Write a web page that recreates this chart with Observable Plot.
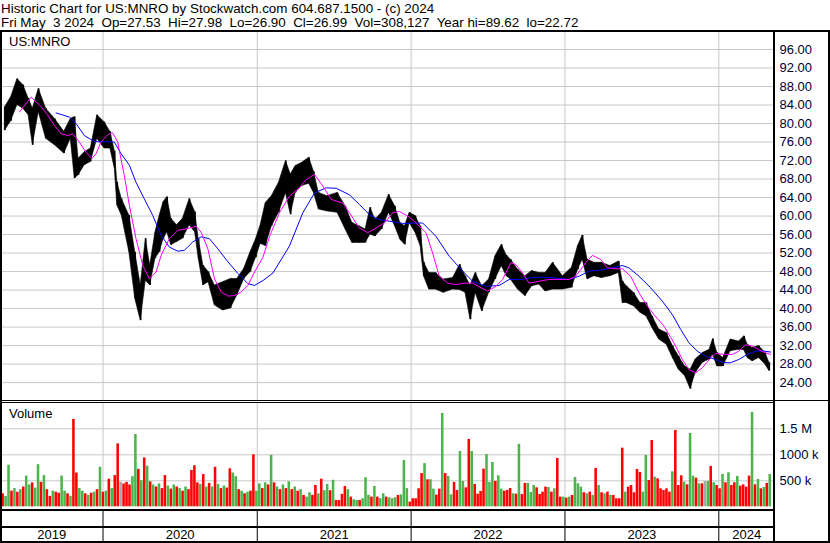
<!DOCTYPE html>
<html><head><meta charset="utf-8">
<script src="https://cdn.jsdelivr.net/npm/d3@7"></script>
<script src="https://cdn.jsdelivr.net/npm/@observablehq/plot@0.6"></script>
<style>
body{margin:0;background:#fff;}
#chart{position:relative;width:830px;height:543px;overflow:hidden;background:#fff;font-family:Arial,"Liberation Sans",Helvetica,sans-serif;font-size:13px;color:#000;}
.t{position:absolute;white-space:pre;line-height:15px;font-size:13px;}
.hd{font-size:13.4px;line-height:13px;}
.hl{position:absolute;background:#000;}
.layer{position:absolute;left:0;}
</style></head><body><div id="chart"></div><script>
// ---------- header texts ----------
const titleLine = "Historic Chart for US:MNRO by Stockwatch.com 604.687.1500 - (c) 2024";
const infoLine = "Fri May  3 2024  Op=27.53  Hi=27.98  Lo=26.90  Cl=26.99  Vol=308,127  Year hi=89.62  lo=22.72";
const symbolLabel = "US:MNRO";
const volumeLabel = "Volume";

// ---------- axis ticks ----------
const priceTicks = [24,28,32,36,40,44,48,52,56,60,64,68,72,76,80,84,88,92,96];
const volTicks = [500000, 1000000, 1500000];
const volTickLabels = ["500 k", "1000 k", "1.5 M"];
const years = [2019, 2020, 2021, 2022, 2023, 2024];

// ---------- price ranges (period start, low, high) ----------
const barDates = ["2019-05-06","2019-05-21","2019-06-04","2019-06-20","2019-07-02","2019-07-15","2019-07-22","2019-08-12","2019-08-26","2019-09-23",
"2019-10-09","2019-10-24","2019-10-28","2019-11-11","2019-11-26","2019-12-10","2019-12-27","2020-01-13","2020-01-24","2020-02-03",
"2020-02-05","2020-02-24","2020-03-12","2020-03-23","2020-04-07","2020-04-16","2020-04-28","2020-05-11","2020-05-18","2020-05-29",
"2020-06-05","2020-06-17","2020-07-02","2020-07-15","2020-08-03","2020-08-10","2020-08-20","2020-09-01","2020-09-14","2020-09-30",
"2020-10-23","2020-11-06","2020-11-23","2020-12-09","2020-12-23","2021-01-04","2021-01-14","2021-01-28","2021-02-12","2021-03-03",
"2021-03-17","2021-03-26","2021-04-09","2021-04-26","2021-05-12","2021-05-19","2021-06-04","2021-06-29","2021-07-22","2021-08-06",
"2021-08-23","2021-09-08","2021-09-22","2021-10-01","2021-10-15","2021-11-01","2021-11-18","2021-11-30","2021-12-13","2021-12-22",
"2022-01-04","2022-01-19","2022-01-28","2022-02-04","2022-02-22","2022-03-07","2022-03-31","2022-04-21","2022-05-03","2022-05-17",
"2022-05-27","2022-06-10","2022-06-27","2022-07-13","2022-07-27","2022-08-12","2022-08-19","2022-09-01","2022-09-22","2022-10-06",
"2022-10-24","2022-11-09","2022-11-23","2022-12-14","2023-01-09","2023-01-26","2023-02-07","2023-02-17","2023-03-02","2023-03-21",
"2023-04-06","2023-05-01","2023-05-17","2023-05-19","2023-06-05","2023-06-22","2023-07-06","2023-07-21","2023-08-03","2023-08-22",
"2023-09-08","2023-09-20","2023-10-06","2023-10-20","2023-11-01","2023-11-13","2023-12-05","2023-12-15","2023-12-22","2024-01-04",
"2024-01-19","2024-02-08","2024-02-28","2024-03-04","2024-03-15","2024-03-27","2024-04-15","2024-04-26"];
const lastBarEnd = "2024-05-04";
const barLow = [78.5,80.5,84.0,83.2,81.8,75.3,82.5,76.7,75.3,73.5,
76.7,68.1,68.8,71.0,71.7,76.7,74.6,74.6,70.2,62.3,
60.1,52.2,42.1,37.4,46.0,45.0,50.8,52.2,55.0,56.5,
53.7,54.4,55.1,58.0,56.5,50.8,45.0,45.7,40.7,39.6,
40.0,42.8,46.4,47.9,51.0,54.0,53.5,57.8,60.7,65.0,
60.3,65.0,66.5,67.0,65.0,61.4,61.0,60.7,57.1,54.2,
54.2,54.2,56.0,55.6,57.1,60.7,57.8,54.9,53.8,58.5,
56.4,53.5,47.0,44.1,44.1,43.4,44.1,44.0,43.4,37.6,
43.4,39.4,43.4,46.3,49.2,47.0,46.3,44.1,42.7,44.8,
45.2,43.7,44.1,44.1,44.5,48.4,50.6,46.3,47.0,46.6,
47.0,47.7,41.2,41.2,40.5,39.1,38.3,35.8,33.3,32.2,
29.3,26.8,25.4,22.6,26.1,28.3,29.0,30.0,27.5,27.5,
30.8,31.1,31.0,29.3,28.6,29.3,27.9,26.5];
const barHigh = [83.5,85.7,89.6,88.3,85.4,83.2,87.5,83.2,81.0,78.2,
81.0,81.4,72.4,73.8,74.6,81.8,80.3,78.2,74.0,67.3,
63.7,60.1,52.2,45.0,55.1,49.3,56.5,60.1,63.0,64.1,
59.4,58.0,59.4,63.7,60.9,55.1,49.3,47.9,45.0,45.7,
46.4,46.4,48.6,52.2,55.0,58.0,62.8,64.3,67.2,71.9,
69.0,70.8,71.5,72.6,69.6,65.0,64.3,65.0,62.1,58.5,
57.8,57.1,61.8,59.2,60.7,64.6,62.1,58.5,57.8,60.7,
60.0,57.8,50.0,47.7,47.7,46.3,46.6,49.5,47.0,45.0,
47.7,44.8,46.3,51.3,53.8,51.5,50.6,48.4,47.0,48.1,
47.7,47.7,49.9,47.0,48.8,53.5,55.8,50.6,49.9,49.9,
49.2,50.2,45.9,44.8,43.4,41.2,41.2,38.3,35.5,34.7,
31.9,29.7,27.5,26.8,29.0,30.4,31.1,33.4,30.4,29.3,
33.3,32.9,34.0,32.2,31.5,31.9,30.4,28.3];

// ---------- moving averages (decimal year, value) ----------
const maFastYears = [2019.457,2019.533,2019.598,2019.641,2019.684,2019.727,2019.771,2019.803,2019.846,2019.890,
2019.927,2019.955,2019.987,2020.031,2020.063,2020.095,2020.138,2020.171,2020.214,2020.258,
2020.301,2020.344,2020.377,2020.430,2020.485,2020.550,2020.604,2020.636,2020.680,2020.723,
2020.766,2020.810,2020.852,2020.896,2020.939,2020.982,2021.037,2021.080,2021.144,2021.209,
2021.274,2021.318,2021.372,2021.426,2021.480,2021.556,2021.599,2021.664,2021.718,2021.772,
2021.826,2021.881,2021.923,2021.978,2022.032,2022.097,2022.140,2022.183,2022.238,2022.291,
2022.345,2022.400,2022.454,2022.497,2022.551,2022.595,2022.648,2022.681,2022.724,2022.767,
2022.832,2022.897,2022.962,2023.027,2023.070,2023.135,2023.179,2023.233,2023.276,2023.330,
2023.373,2023.427,2023.481,2023.536,2023.579,2023.644,2023.708,2023.763,2023.806,2023.849,
2023.893,2023.947,2023.979,2024.033,2024.088,2024.130,2024.174,2024.217,2024.260,2024.304,2024.336];
const maFastValues = [82.5,85.7,83.6,81.8,79.6,77.8,77.4,77.8,76.0,73.8,
72.4,73.5,76.0,77.6,78.0,76.0,68.8,62.3,55.1,49.3,
46.4,47.9,51.5,55.1,56.9,57.3,57.8,56.5,52.9,46.4,
43.6,42.7,42.8,43.6,45.0,47.9,51.1,55.6,60.7,64.3,
66.1,67.9,69.0,66.5,63.6,62.8,60.7,57.4,56.4,57.4,
58.5,60.7,61.0,60.0,58.5,56.4,52.0,47.0,45.5,45.2,
45.5,45.5,44.5,43.8,44.8,46.3,49.9,49.5,47.7,45.5,
45.9,46.3,46.3,46.3,47.0,49.9,51.5,50.6,48.8,48.6,
48.6,47.0,43.4,40.5,38.7,36.2,32.6,29.0,26.8,26.1,
27.2,29.3,30.3,30.1,30.1,30.8,32.2,31.9,31.1,30.4,30.1];
const maSlowYears = [2019.695,2019.781,2019.825,2019.879,2019.944,2020.073,2020.117,2020.171,2020.214,2020.268,
2020.323,2020.377,2020.430,2020.485,2020.528,2020.582,2020.636,2020.690,2020.745,2020.810,
2020.874,2020.939,2020.982,2021.039,2021.102,2021.209,2021.296,2021.372,2021.448,2021.513,
2021.599,2021.664,2021.729,2021.794,2021.858,2021.945,2022.075,2022.162,2022.248,2022.335,
2022.400,2022.486,2022.573,2022.638,2022.713,2022.767,2022.854,2022.940,2023.027,2023.092,
2023.157,2023.244,2023.309,2023.373,2023.416,2023.481,2023.557,2023.633,2023.698,2023.752,
2023.806,2023.860,2023.914,2023.979,2024.033,2024.076,2024.130,2024.185,2024.239,2024.293,2024.336];
const maSlowValues = [82.3,81.4,80.0,77.4,76.1,76.0,73.5,71.0,67.3,63.7,
60.1,55.8,53.3,52.4,52.6,54.4,55.5,55.1,52.9,50.1,
47.6,45.4,45.0,46.1,47.7,53.5,60.7,65.0,66.1,66.0,
64.6,62.5,60.3,59.2,58.9,58.4,58.5,55.6,51.3,48.1,
45.9,44.8,45.0,46.3,46.3,46.6,46.8,46.6,46.3,47.0,
48.1,48.4,48.8,49.3,48.8,47.0,44.5,41.6,38.7,35.5,
32.6,30.8,29.7,29.0,28.3,28.3,29.0,30.1,30.8,30.8,30.6];

// ---------- weekly volume (thousands) and direction (r down, g up, n unchanged) ----------
const volStart = "2019-05-06";
const volK = [250,200,800,300,350,280,330,380,590,420,
460,360,810,470,600,330,200,300,280,260,
590,300,250,200,1680,650,350,300,250,220,
260,280,330,760,280,300,530,350,600,1210,
470,440,470,420,580,1390,720,500,940,780,
480,420,380,440,350,600,400,340,420,380,
350,300,380,330,700,790,460,430,620,380,
450,380,760,430,350,400,360,730,650,580,
330,300,250,280,300,1000,300,440,350,460,
420,990,460,380,330,420,350,480,330,380,
300,330,
218,186,270,220,410,250,530,310,430,310,
510,120,120,240,390,330,186,135,120,120,
155,560,220,186,390,186,155,250,186,173,
155,173,218,230,890,350,90,155,155,346,
640,830,520,520,340,225,340,1795,640,583,
230,468,314,1064,487,365,1295,1064,430,243,
295,724,1006,468,852,487,596,340,300,314,
352,250,243,1200,237,449,449,276,410,365,
237,
282,378,372,282,346,930,186,186,167,186,
218,564,442,378,270,250,282,218,737,410,
270,250,282,218,218,154,154,1128,282,378,
410,270,718,660,282,987,506,1276,570,538,
346,314,346,282,673,1468,410,596,474,423,
1410,590,551,442,442,487,487,776,462,410,
346,622,462,654,410,462,583,397,423,378,
590,1814,423,526,346,372,449,622];
const volDir = ["r","g","g","r","g","r","g","r","g","g",
"r","g","g","r","g","r","r","g","r","r",
"g","g","r","g","r","r","g","g","r","g",
"r","g","r","g","r","g","r","g","r","r",
"n","r","r","r","g","g","r","g","r","g",
"r","g","r","g","r","r","g","r","g","r",
"g","r","g","r","r","r","r","g","r","g",
"r","g","r","g","r","g","r","r","g","g",
"r","g","r","g","r","r","g","g","r","g",
"r","g","r","g","r","g","r","g","r","g",
"r","g",
"r","g","g","r","r","g","r","g","g","r",
"g","r","r","r","r","g","r","g","g","r",
"g","g","g","r","g","r","g","g","r","g",
"g","g","r","g","g","g","r","r","r","r",
"r","g","r","g","g","r","r","g","r","g",
"g","r","r","g","g","r","r","g","r","r",
"r","r","g","g","g","r","g","g","r","r",
"r","g","r","g","r","r","g","g","g","r",
"r",
"r","r","g","r","g","r","r","g","r","g",
"r","g","g","g","r","g","r","g","r","g",
"r","g","r","g","r","r","r","r","g","r",
"r","r","r","r","g","g","r","r","g","r",
"r","r","r","r","g","r","r","r","g","r",
"g","g","r","g","r","n","g","r","g","r",
"r","g","r","g","r","r","g","r","r","r",
"r","g","r","g","r","g","r","g"];

// ---------- build tables ----------
const parse = d3.utcParse("%Y-%m-%d");
function fromDecYear(y) {
  const yr = Math.floor(y);
  const s = Date.UTC(yr, 0, 1), e = Date.UTC(yr + 1, 0, 1);
  return new Date(s + (y - yr) * (e - s));
}
const bars = barDates.map((d, i) => {
  const a = parse(d), b = parse(barDates[i + 1] || lastBarEnd);
  return {x1: a, x2: b, mid: new Date((+a + +b) / 2), lo: barLow[i], hi: barHigh[i]};
});
const fast = maFastYears.map((y, i) => ({date: fromDecYear(y), v: maFastValues[i]}));
const slow = maSlowYears.map((y, i) => ({date: fromDecYear(y), v: maSlowValues[i]}));
const v0 = parse(volStart);
const dirColor = {r: "#ff0000", g: "#4cb44c", n: "#a8a8a8"};
const vols = volK.map((v, i) => ({x1: d3.utcDay.offset(v0, 7 * i), x2: d3.utcDay.offset(v0, 7 * i + 7), v: v * 1000, c: dirColor[volDir[i]]}));
const yearStarts = years.slice(1).map(y => new Date(Date.UTC(y, 0, 1)));

// ---------- shared x scale ----------
const W = 830, PLOT_RIGHT = 774;
const xDomain = [new Date(Date.UTC(2020, 0, 1)), new Date(Date.UTC(2024, 0, 1))];
const xRange = [102.5, 718.3];
const xs = d3.scaleUtc(xDomain, xRange);
const xStart = xs.invert(0), xEnd = xs.invert(PLOT_RIGHT);
const yearMid = years.map(y => {
  const a = Math.max(Date.UTC(y, 0, 1), +xStart), b = Math.min(Date.UTC(y + 1, 0, 1), +xEnd);
  return {year: y, date: new Date((a + b) / 2)};
});
const font = "Arial, 'Liberation Sans', Helvetica, sans-serif";
const labelColor = "#000033";
const gridColor = "#c8c8c8";
const style = {fontFamily: font, fontSize: "13px", background: "none", overflow: "visible"};

const root = document.getElementById("chart");
function place(node, top) {
  const d = document.createElement("div");
  d.className = "layer";
  d.style.top = top + "px";
  d.appendChild(node);
  root.appendChild(d);
}

// price panel (page y 30.5 .. 400.6)
const pricePlot = Plot.plot({
  width: W, height: 401, marginTop: 30.5, marginBottom: 0.4, marginLeft: 0, marginRight: W - PLOT_RIGHT,
  style,
  x: {type: "utc", domain: xDomain, range: xRange, axis: null},
  y: {domain: [20, 100]},
  marks: [
    Plot.gridY(priceTicks, {stroke: gridColor, strokeOpacity: 1, strokeWidth: 1}),
    Plot.gridX(yearStarts, {stroke: gridColor, strokeOpacity: 1, strokeWidth: 1}),
    Plot.areaY(bars, {x: "mid", y1: "lo", y2: "hi", fill: "#000", stroke: "#000", strokeWidth: 0.6, curve: "linear"}),
    Plot.ruleX(bars, {x: "mid", y1: "lo", y2: "hi", stroke: "#000", strokeWidth: 1.5}),
    Plot.line(slow, {x: "date", y: "v", stroke: "#0000ff", strokeWidth: 1}),
    Plot.line(fast, {x: "date", y: "v", stroke: "#ff00ff", strokeWidth: 1}),
    Plot.axisY(priceTicks, {anchor: "right", tickSize: 0, tickPadding: 5, tickFormat: d => d.toFixed(2), label: null, color: labelColor, fontSize: 13})
  ]
});
place(pricePlot, 0);

// volume panel (page y 402.3 .. 506.3)
const volPlot = Plot.plot({
  width: W, height: 110, marginTop: 2.3, marginBottom: 3.7, marginLeft: 0, marginRight: W - PLOT_RIGHT,
  style,
  x: {type: "utc", domain: xDomain, range: xRange, axis: null},
  y: {domain: [0, 2000000]},
  color: {type: "identity"},
  marks: [
    Plot.gridY(volTicks, {stroke: gridColor, strokeOpacity: 1, strokeWidth: 1}),
    Plot.gridX(yearStarts, {stroke: gridColor, strokeOpacity: 1, strokeWidth: 1}),
    Plot.rectY(vols, {x1: "x1", x2: "x2", y: "v", fill: "c", insetRight: 0.4}),
    Plot.axisY(volTicks, {anchor: "right", tickSize: 0, tickPadding: 5, tickFormat: d => volTickLabels[volTicks.indexOf(d)], label: null, color: labelColor, fontSize: 13})
  ]
});
place(volPlot, 400);

// time axis band (page y 509 .. 543)
const axisPlot = Plot.plot({
  width: W, height: 34, marginTop: 0, marginBottom: 0, marginLeft: 0, marginRight: W - PLOT_RIGHT,
  style,
  x: {type: "utc", domain: xDomain, range: xRange, axis: null},
  marks: [
    Plot.ruleX(yearStarts, {stroke: "#000", strokeWidth: 1}),
    Plot.text(yearMid, {x: "date", text: d => String(d.year), frameAnchor: "middle", dy: 8.5, fontSize: 13, fill: "#000"})
  ]
});
place(axisPlot, 509);

// texts
function addText(txt, left, top, cls) {
  const d = document.createElement("div");
  d.className = "t" + (cls ? " " + cls : ""); d.textContent = txt;
  d.style.left = left + "px"; d.style.top = top + "px";
  root.appendChild(d);
}
addText(titleLine, 1, 2.2, "hd");
addText(infoLine, 1, 15.6, "hd");
addText(symbolLabel, 9, 34);
addText(volumeLabel, 9, 406);

// frame lines
function line(l, t, w, h) {
  const d = document.createElement("div");
  d.className = "hl";
  Object.assign(d.style, {left: l + "px", top: t + "px", width: w + "px", height: h + "px"});
  root.appendChild(d);
}
line(0, 30, 830, 2);      // top
line(0, 30, 2, 513);      // left
line(828, 30, 2, 513);    // right
line(773, 30, 2, 513);    // axis separator
line(0, 399.5, 830, 1);   // price bottom
line(0, 401.5, 775, 1);   // volume top
line(0, 508.5, 775, 2);   // volume bottom
line(0, 526, 775, 2);     // band separator
line(0, 541, 830, 2);     // bottom
</script></body></html>
